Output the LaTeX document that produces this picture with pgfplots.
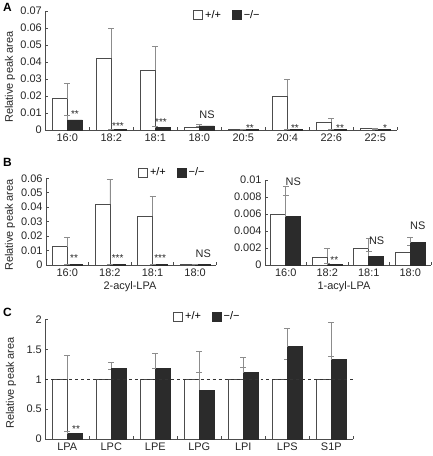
\documentclass[border=0pt]{standalone}
\usepackage{pgfplots}
\pgfplotsset{compat=1.18}
\usepackage{pgfplotstable}
\usepackage{fontspec}
\setmainfont{Liberation Sans}
\definecolor{barline}{gray}{0.3}
\definecolor{errc}{gray}{0.55}
\definecolor{darkfill}{gray}{0.17}
\newcommand{\tfont}{\fontsize{11}{13}\selectfont}
\newcommand{\sfont}{\fontsize{10}{12}\selectfont}
\tikzset{
  stars/.style={font=\sfont, anchor=base, text=black!85, inner sep=0pt},
  ns/.style={font=\tfont, anchor=base, text=black!85, inner sep=0pt},
}
\pgfplotsset{
  panel/.style={
    scale only axis, axis lines*=left, clip=false,
    ymin=0, scaled y ticks=false,
    tick align=inside, major tick length=3bp,
    axis line style={line width=0.8bp, barline},
    every tick/.style={line width=0.8bp, barline},
    tick label style={font=\tfont, text=black!85},
    xticklabel={\phantom{0}},
    extra x tick style={major tick length=0pt},
    legend style={draw=none, fill=none, font=\tfont, inner sep=0pt, anchor=west,
      /tikz/every even column/.append style={column sep=9bp}},
    legend columns=2,
    legend image code/.code={\draw[##1] (0bp,-4.5bp) rectangle (9bp,4.5bp);},
  },
  wt/.style={ybar, bar width=15bp, bar shift=-7.5bp, fill=white, draw=barline, line width=0.8bp,
    error bars/.cd, y dir=plus, y explicit,
    error bar style={errc, line width=0.8bp},
    error mark options={rotate=90, mark size=3bp, errc, line width=0.8bp}},
  ko/.style={ybar, bar width=15bp, bar shift=7.5bp, fill=darkfill, draw=darkfill, line width=0.8bp,
    error bars/.cd, y dir=plus, y explicit,
    error bar style={errc, line width=0.8bp},
    error mark options={rotate=90, mark size=3bp, errc, line width=0.8bp}},
}
\pgfplotstableread{
x y ey
0 0.0183 0.0092
1 0.0423 0.0175
2 0.0350 0.0140
3 0.0017 0.0004
4 0.0002 0.0000
5 0.0200 0.0095
6 0.0045 0.0023
7 0.0008 0.0003
}\Awt
\pgfplotstableread{
x y ey
0 0.0059 0.0025
1 0.0004 0.0001
2 0.0015 0.0005
3 0.0024 0.0006
4 0.0001 0.0000
5 0.0003 0.0001
6 0.0005 0.0001
7 0.0002 0.0001
}\Ako
\pgfplotstableread{
x y ey
0 0.0126 0.0064
1 0.0419 0.0176
2 0.0338 0.0136
3 0.0001 0.0000
}\Bwt
\pgfplotstableread{
x y ey
0 0.0002 0.0000
1 0.0003 0.0000
2 0.0005 0.0001
3 0.0001 0.0000
}\Bko
\pgfplotstableread{
x y ey
0 0.0060 0.0033
1 0.0009 0.0010
2 0.0019 0.0012
3 0.0015 0.0008
}\Cwt
\pgfplotstableread{
x y ey
0 0.0057 0.0025
1 0.0001 0.00005
2 0.0010 0.0006
3 0.0026 0.0007
}\Cko
\pgfplotstableread{
x y ey
0 1 0.40
1 1 0.17
2 1 0.19
3 1 0.47
4 1 0.20
5 1 0.34
6 1 0.39
}\Dwt
\pgfplotstableread{
x y ey
0 0.09 0.03
1 1.19 0.09
2 1.18 0.25
3 0.82 0.30
4 1.11 0.26
5 1.55 0.31
6 1.33 0.62
}\Dko
\begin{document}
\begin{tikzpicture}[x=1bp,y=1bp]
\useasboundingbox (0,0) rectangle (432,456);
% ---------- Panel A
\begin{axis}[panel, at={(45.3bp,326bp)}, anchor=south west,
  width=352bp, height=119bp, xmin=-0.5, xmax=7.5, ymax=0.07,
  xtick={0.5,1.5,2.5,3.5,4.5,5.5,6.5,7.5},
  extra x ticks={0,1,2,3,4,5,6,7},
  extra x tick labels={16:0,18:2,18:1,18:0,20:5,20:4,22:6,22:5},
  ytick={0,0.01,0.02,0.03,0.04,0.05,0.06,0.07},
  yticklabels={0,0.01,0.02,0.03,0.04,0.05,0.06,0.07},
  legend style={at={(0.42,0.966)}}]
\addplot[wt] table[x=x,y=y,y error=ey]{\Awt};
\addplot[ko] table[x=x,y=y,y error=ey]{\Ako};
\legend{+/+,−/−}
\node[stars] at (axis cs:0.175,0.0072) {**};
\node[stars] at (axis cs:1.152,0.0004) {***};
\node[stars] at (axis cs:2.13,0.0028) {***};
\node[ns] at (axis cs:3.175,0.0065) {NS};
\node[stars] at (axis cs:4.15,-0.0006) {**};
\node[stars] at (axis cs:5.175,-0.0006) {**};
\node[stars] at (axis cs:6.2,-0.0006) {**};
\node[stars] at (axis cs:7.22,-0.0006) {*};
\end{axis}
% ---------- Panel B left
\begin{axis}[panel, at={(46bp,191bp)}, anchor=south west,
  width=170.4bp, height=86.7bp, xmin=-0.5, xmax=3.5, ymax=0.06,
  xtick={0.5,1.5,2.5,3.5},
  extra x ticks={0,1,2,3},
  extra x tick labels={16:0,18:2,18:1,18:0},
  ytick={0,0.01,0.02,0.03,0.04,0.05,0.06},
  yticklabels={0,0.01,0.02,0.03,0.04,0.05,0.06},
  legend style={at={(0.54,1.065)}}]
\addplot[wt] table[x=x,y=y,y error=ey]{\Bwt};
\addplot[ko] table[x=x,y=y,y error=ey]{\Bko};
\legend{+/+,−/−}
\node[stars] at (axis cs:0.16,0.0021) {**};
\node[stars] at (axis cs:1.18,0.0021) {***};
\node[stars] at (axis cs:2.18,0.0021) {***};
\node[ns] at (axis cs:3.19,0.0055) {NS};
\end{axis}
% ---------- Panel B right
\begin{axis}[panel, at={(265bp,191bp)}, anchor=south west,
  width=166bp, height=85bp, xmin=-0.5, xmax=3.5, ymax=0.01,
  xtick={0.5,1.5,2.5,3.5},
  extra x ticks={0,1,2,3},
  extra x tick labels={16:0,18:2,18:1,18:0},
  ytick={0,0.002,0.004,0.006,0.008,0.01},
  yticklabels={0,0.002,0.004,0.006,0.008,0.01}]
\addplot[wt] table[x=x,y=y,y error=ey]{\Cwt};
\addplot[ko] table[x=x,y=y,y error=ey]{\Cko};
\node[ns] at (axis cs:0.18,0.0093) {NS};
\node[stars] at (axis cs:1.17,0.0002) {**};
\node[ns] at (axis cs:2.19,0.0024) {NS};
\node[ns] at (axis cs:3.18,0.0042) {NS};
\end{axis}
% ---------- Panel C
\begin{axis}[panel, at={(45.3bp,17bp)}, anchor=south west,
  width=308bp, height=119.3bp, xmin=-0.5, xmax=6.5, ymax=2,
  xtick={0.5,1.5,2.5,3.5,4.5,5.5,6.5},
  extra x ticks={0,1,2,3,4,5,6},
  extra x tick labels={LPA,LPC,LPE,LPG,LPI,LPS,S1P},
  ytick={0,0.5,1,1.5,2},
  yticklabels={0,0.5,1,1.5,2},
  legend style={at={(0.415,1.025)}}]
\addplot[wt] table[x=x,y=y,y error=ey]{\Dwt};
\addplot[ko] table[x=x,y=y,y error=ey]{\Dko};
\legend{+/+,−/−}
\addplot[black!80, dashed, line width=0.6bp, forget plot, sharp plot] coordinates {(-0.5,1) (6.5,1)};
\node[stars] at (axis cs:0.198,0.106) {**};
\end{axis}
% ---------- texts
\node[font=\fontsize{12}{14}\selectfont\bfseries, anchor=north west, inner sep=0pt] at (3bp,453bp) {A};
\node[font=\fontsize{12}{14}\selectfont\bfseries, anchor=north west, inner sep=0pt] at (3bp,298bp) {B};
\node[font=\fontsize{12}{14}\selectfont\bfseries, anchor=north west, inner sep=0pt] at (3bp,148bp) {C};
\node[rotate=90, font=\tfont, text=black!85] at (10bp,379bp) {Relative peak area};
\node[rotate=90, font=\tfont, text=black!85] at (10bp,231bp) {Relative peak area};
\node[rotate=90, font=\tfont, text=black!85] at (11bp,73bp) {Relative peak area};
\node[font=\tfont, text=black!85] at (130bp,169bp) {2-acyl-LPA};
\node[font=\tfont, text=black!85] at (344bp,169bp) {1-acyl-LPA};
\end{tikzpicture}
\end{document}
